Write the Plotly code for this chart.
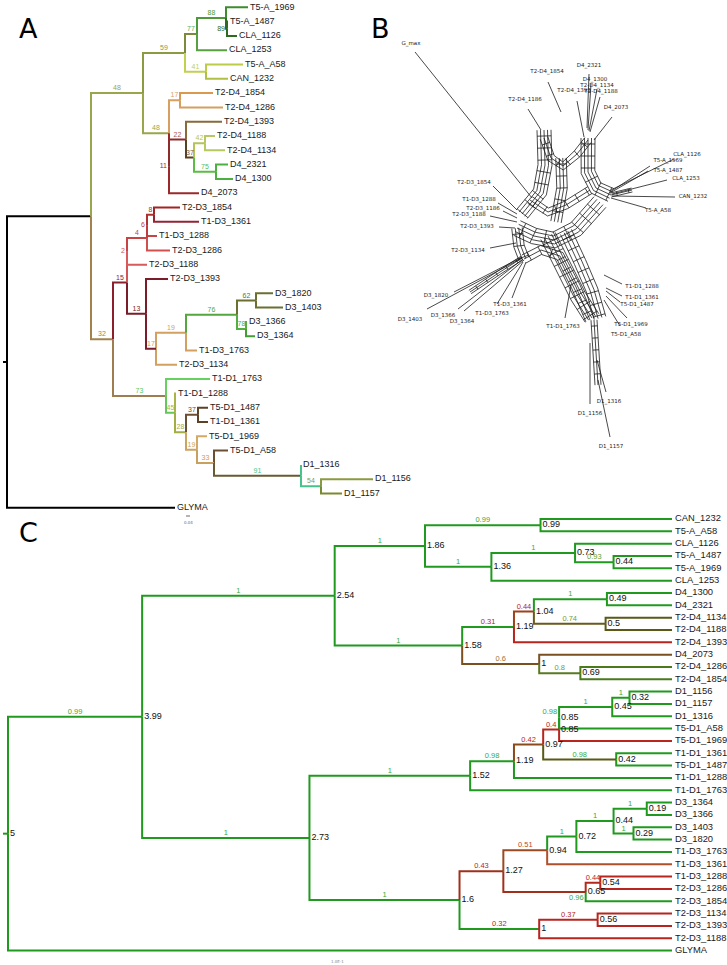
import numpy as np
import plotly.graph_objects as go

# ---------------- Panel A: ML tree with bootstrap support ----------------
a_node = ["R", "IN", "A48", "A59", "A77", "A88", "T5-A_1969", "A89", "T5-A_1487", "CLA_1126",
          "CLA_1253", "A41", "T5-A_A58", "CAN_1232", "A48b", "A17", "T2-D4_1854", "T2-D4_1286",
          "A11", "A22", "T2-D4_1393", "A37", "A42", "T2-D4_1188", "T2-D4_1134", "A75", "D4_2321",
          "D4_1300", "D4_2073",
          "A32", "A15", "A2", "A4", "A6", "A8", "T2-D3_1854", "T1-D3_1361", "T1-D3_1288",
          "T2-D3_1286", "T2-D3_1188", "A13", "T2-D3_1393", "A17b", "A19", "A76", "A62", "D3_1820",
          "D3_1403", "A78", "D3_1366", "D3_1364", "T1-D3_1763", "T2-D3_1134",
          "A73", "T1-D1_1763", "A45", "T1-D1_1288", "A28", "A37b", "T5-D1_1487", "T1-D1_1361",
          "A19b", "T5-D1_1969", "A33", "T5-D1_A58", "A91", "D1_1316", "A54", "D1_1156", "D1_1157",
          "GLYMA"]
a_parent = [None, "R", "IN", "A48", "A59", "A77", "A88", "A88", "A89", "A89",
            "A77", "A59", "A41", "A41", "A48", "A48b", "A17", "A17",
            "A48b", "A11", "A22", "A22", "A37", "A42", "A42", "A37", "A75",
            "A75", "A11",
            "IN", "A32", "A15", "A2", "A4", "A6", "A8", "A8", "A6",
            "A4", "A2", "A15", "A13", "A13", "A17b", "A19", "A76", "A62",
            "A62", "A76", "A78", "A78", "A19", "A17b",
            "A32", "A73", "A73", "A45", "A45", "A28", "A37b", "A37b",
            "A28", "A19b", "A19b", "A33", "A33", "A91", "A91", "A54", "A54",
            "R"]
a_length = [0, 0.672, 0.416, 0.336, 0.096, 0.232, 0.176, 0.008, 0.008, 0.080,
            0.240, 0.168, 0.296, 0.176, 0.208, 0.088, 0.264, 0.344,
            0.0, 0.136, 0.288, 0.064, 0.088, 0.080, 0.160, 0.176, 0.096,
            0.136, 0.240,
            0.176, 0.112, 0.0, 0.160, 0.0, 0.056, 0.208, 0.360, 0.080,
            0.184, 0.160, 0.152, 0.176, 0.080, 0.240, 0.408, 0.152, 0.136,
            0.216, 0.072, 0.008, 0.072, 0.088, 0.168,
            0.424, 0.352, 0.072, 0.008, 0.088, 0.096, 0.080, 0.080,
            0.088, 0.080, 0.136, 0.112, 0.696, 0.0, 0.160, 0.416, 0.168,
            1.344]
a_support = [None, None, 48, 59, 77, 88, None, 89, None, None,
             None, 41, None, None, 48, 17, None, None,
             11, 22, None, 37, 42, None, None, 75, None,
             None, None,
             32, 15, 2, 4, 6, 8, None, None, None,
             None, None, 13, None, 17, 19, 76, 62, None,
             None, 78, None, None, None, None,
             73, None, 45, None, 28, 37, None, None,
             19, None, 33, None, 91, None, 54, None, None,
             None]
a_color = ["#000000", "#000000", "#9aa64a", "#8c9a40", "#7d8a3c", "#4e9a3a", "#3e8c2e", "#2e6b22", "#2e6b22", "#2e6b22",
           "#58a040", "#c2d050", "#bccc48", "#b0c044", "#9aa64a", "#d8a060", "#d89a50", "#d4a060",
           "#9a2a2a", "#8c2c2c", "#8b6a3a", "#5a4022", "#b4c458", "#b8c860", "#b8c860", "#5cbc44", "#4cb040",
           "#4cb040", "#9a2a2a",
           "#a3824e", "#8b1f2c", "#d45555", "#c84444", "#c03c3c", "#b03030", "#a42424", "#922434", "#c84444",
           "#d05050", "#d85a5a", "#7a1c2a", "#7a1c2a", "#7a1c2a", "#d4a060", "#52a83e", "#6b7030", "#6b7030",
           "#6b7030", "#52b042", "#52b042", "#449c34", "#d4a060", "#d4a060",
           "#9e7e50", "#66d060", "#62c85a", "#a8b444", "#a4ac44", "#6a5030", "#5a4224", "#5a4224",
           "#cca462", "#d4aa62", "#c8a060", "#6a5030", "#6a5a32", "#44c48a", "#44c48a", "#8a9a40", "#7a8a32",
           "#000000"]
# support labels whose colour differs from the branch line
a_support_color = {"A73": "#5cc85c", "A91": "#44c48a", "A17b": "#d4a060", "A45": "#a8b444",
                   "A54": "#8a9a40", "A22": "#b05a40", "A37": "#7a5a30", "A77": "#6aa84f"}

# ---------------- Panel B: split network ----------------
b_taxa = ["G_max", "T2-D4_1854", "T2-D4_1186", "D4_2321", "D4_1300", "T2-D4_1134", "T2-D4_1393",
          "T2-D4_1188", "D4_2073", "CLA_1126", "T5-A_1969", "T5-A_1487", "CLA_1253", "CAN_1232",
          "T5-A_A58", "T2-D3_1854", "T1-D3_1288", "T2-D3_1186", "T2-D3_1188", "T2-D3_1393",
          "T2-D3_1134", "D3_1820", "D3_1403", "D3_1366", "D3_1364", "T1-D3_1361", "T1-D3_1763",
          "T1-D1_1763", "T1-D1_1288", "T1-D1_1361", "T5-D1_1487", "T5-D1_1969", "T5-D1_A58",
          "D1_1316", "D1_1156", "D1_1157"]
b_lab_x = [411, 547, 525, 589, 595, 597, 574, 601, 616, 687, 668, 668, 686, 693, 658, 474, 479, 483,
           469, 477, 468, 436, 410, 443, 462, 510, 492, 563, 642, 642, 637, 631, 626, 609, 590, 611]
b_lab_y = [44, 72, 100, 66, 80, 86, 91, 92, 108, 155, 161, 171, 179, 197, 211, 183, 200, 209,
           215, 227, 251, 296, 320, 316, 322, 305, 314, 327, 287, 298, 305, 325, 335, 402, 414, 447]
b_tip_x = [415, 548, 528, 589, 591, 597, 577, 600, 612, 674, 650, 648, 667, 675, 646, 493, 498, 503,
           490, 499, 490, 454, 427, 458, 464, 512, 497, 565, 622, 622, 620, 627, 620, 606, 590, 610]
b_tip_y = [52, 82, 109, 74, 84, 89, 101, 97, 117, 159, 166, 171, 180, 197, 208, 186, 203, 211,
           216, 227, 248, 292, 309, 309, 311, 298, 304, 318, 284, 296, 302, 318, 326, 392, 404, 437]
b_att_x = [532, 561, 541, 587, 588, 589, 584, 590, 594, 611, 610, 610, 612, 612, 611, 517, 517, 517,
           517, 515, 516, 522, 522, 523, 524, 526, 523, 571, 604, 606, 606, 606, 604, 597, 590, 598]
b_att_y = [198, 112, 130, 128, 130, 131, 137, 132, 140, 190, 192, 193, 194, 196, 198, 210, 214, 218,
           222, 228, 243, 257, 258, 259, 260, 262, 262, 285, 275, 288, 291, 296, 300, 360, 343, 380]
# internal splits, drawn as ribbons of parallel edges
b_band_path = [[(544, 130), (545, 165), (540, 192), (522, 214)],
               [(561, 158), (562, 188), (556, 222)],
               [(588, 138), (588, 172), (596, 188), (611, 195)],
               [(544, 138), (551, 158), (563, 166), (577, 154), (588, 140)],
               [(517, 228), (534, 236), (554, 240), (576, 229), (600, 202)],
               [(548, 236), (563, 266), (578, 296), (592, 318)],
               [(566, 232), (580, 262), (592, 290), (600, 318)],
               [(517, 228), (519, 246), (524, 259)],
               [(524, 259), (541, 250), (560, 256), (576, 287), (590, 320)],
               [(594, 320), (596, 352), (598, 385)],
               [(522, 258), (500, 272), (470, 292)],
               [(611, 195), (632, 190)],
               [(530, 200), (548, 212), (566, 205), (590, 190)]]
b_band_lines = [5, 4, 5, 3, 5, 5, 4, 4, 3, 3, 3, 3, 3]
b_band_gap = [3.5, 3.5, 3.5, 4.0, 4.0, 4.0, 4.0, 3.5, 4.5, 3.0, 2.0, 2.0, 4.0]

# ---------------- Panel C: dated tree (node ages, posterior) ----------------
GR, LG, RD = "#1f9a1f", "#38aa38", "#b8241e"
c_node = ["C5", "C399", "C254", "C186", "C099", "CAN_1232", "T5-A_A58", "C136", "C073", "CLA_1126",
          "C044a", "T5-A_1487", "T5-A_1969", "CLA_1253", "C158", "C119a", "C104", "C049", "D4_1300", "D4_2321",
          "C050", "T2-D4_1134", "T2-D4_1188", "T2-D4_1393", "C100a", "D4_2073", "C069", "T2-D4_1286", "T2-D4_1854", "C273",
          "C152", "C119b", "C097", "C085b", "C085a", "C045", "C032", "D1_1156", "D1_1157", "D1_1316",
          "T5-D1_A58", "T5-D1_1969", "C042", "T1-D1_1361", "T5-D1_1487", "T1-D1_1288", "T1-D1_1763", "C160", "C127", "C094",
          "C072", "C044b", "C019", "D3_1364", "D3_1366", "C029", "D3_1403", "D3_1820", "T1-D3_1763", "T1-D3_1361",
          "C065", "C054", "T1-D3_1288", "T2-D3_1286", "T2-D3_1854", "C100b", "C056", "T2-D3_1134", "T2-D3_1393", "T2-D3_1188",
          "GLYMA"]
c_parent = [None, "C5", "C399", "C254", "C186", "C099", "C099", "C186", "C136", "C073",
            "C073", "C044a", "C044a", "C136", "C254", "C158", "C119a", "C104", "C049", "C049",
            "C104", "C050", "C050", "C119a", "C158", "C100a", "C100a", "C069", "C069", "C399",
            "C273", "C152", "C119b", "C097", "C085b", "C085a", "C045", "C032", "C032", "C045",
            "C085a", "C085b", "C097", "C042", "C042", "C119b", "C152", "C273", "C160", "C127",
            "C094", "C072", "C044b", "C019", "C019", "C044b", "C029", "C029", "C072", "C094",
            "C127", "C065", "C054", "C054", "C065", "C160", "C100b", "C056", "C056", "C100b",
            "C5"]
c_age = [5, 3.99, 2.54, 1.86, 0.99, 0, 0, 1.36, 0.73, 0,
         0.44, 0, 0, 0, 1.58, 1.19, 1.04, 0.49, 0, 0,
         0.5, 0, 0, 0, 1, 0, 0.69, 0, 0, 2.73,
         1.52, 1.19, 0.97, 0.85, 0.85, 0.45, 0.32, 0, 0, 0,
         0, 0, 0.42, 0, 0, 0, 0, 1.6, 1.27, 0.94,
         0.72, 0.44, 0.19, 0, 0, 0.29, 0, 0, 0, 0,
         0.65, 0.54, 0, 0, 0, 1, 0.56, 0, 0, 0,
         0]
c_post = [None, 0.99, 1, 1, 0.99, None, None, 1, 1, None,
          0.93, None, None, None, 1, 0.31, 0.44, 1, None, None,
          0.74, None, None, None, 0.6, None, 0.8, None, None, 1,
          1, 0.98, 0.42, 0.4, 0.98, 1, 1, None, None, None,
          None, None, 0.98, None, None, None, None, 1, 0.43, 0.51,
          1, 1, 1, None, None, 1, None, None, None, None,
          0.96, 0.44, None, None, None, 0.32, 0.37, None, None, None,
          None]
c_line = [GR, GR, GR, GR, GR, GR, GR, GR, GR, GR,
          GR, GR, GR, GR, GR, GR, "#a0401c", GR, GR, GR,
          "#6a5a1c", "#5a5a18", "#5a5a18", RD, "#7a5020", "#7a5020", "#5a7a20", "#4a7a1c", "#4a7a1c", GR,
          GR, GR, "#8a4a1c", RD, GR, GR, GR, GR, GR, GR,
          GR, RD, "#5a5a18", GR, GR, GR, GR, GR, "#a0301c", "#9a4a20",
          GR, GR, GR, GR, GR, GR, GR, GR, GR, "#b0502a",
          "#a0301c", RD, RD, RD, GR, GR, RD, RD, RD, RD,
          GR]
c_lab = [None, LG, LG, LG, LG, None, None, LG, LG, None,
         "#6aa020", None, None, None, LG, RD, RD, LG, None, None,
         "#7a9a30", None, None, None, "#a07040", None, "#6aa030", None, None, LG,
         LG, LG, RD, RD, LG, LG, LG, None, None, None,
         None, None, LG, None, None, None, None, LG, RD, "#c04a2a",
         LG, LG, LG, None, None, LG, None, None, None, None,
         LG, RD, None, None, None, RD, RD, None, None, None,
         None]
c_lab_pos = {"C085a": "top left", "C065": "bottom left"}

# ---------------- geometry (pixels of the 727 x 965 page) ----------------
W, H = 727, 965
SANS = "Liberation Sans, Arial, sans-serif"
A_ROOT_PX, A_PX_PER_UNIT, A_TIP0, A_STEP = 7, 125.0, 7.3, 14.3
C_TIP_PX, C_PX_PER_AGE, C_TIP0, C_STEP = 672, 132.8, 519, 12.33
TOP_H = 510


def tree_layout(nodes, parents):
    kids = {n: [] for n in nodes}
    root = None
    for n, p in zip(nodes, parents):
        if p is None:
            root = n
        else:
            kids[p].append(n)
    ypos, order = {}, []

    def walk(n):
        if not kids[n]:
            ypos[n] = len(order)
            order.append(n)
        else:
            for c in kids[n]:
                walk(c)
            ypos[n] = sum(ypos[c] for c in kids[n]) / len(kids[n])
    walk(root)
    return root, kids, ypos, order


def line_traces(segs, width, xa, ya):
    out = []
    for col, (xs, ys) in segs.items():
        out.append(go.Scatter(x=xs, y=ys, mode="lines", line=dict(color=col, width=width),
                              hoverinfo="skip", xaxis=xa, yaxis=ya))
    return out


fig = go.Figure()

# ----- panel A -----
a_root, a_kids, a_y, a_tips = tree_layout(a_node, a_parent)
a_x = {}
for n, p, L in zip(a_node, a_parent, a_length):
    a_x[n] = 0.0 if p is None else a_x[p] + L
ux = 1 / A_PX_PER_UNIT   # one pixel in branch-length units
uy = 1 / A_STEP          # one pixel in tip-index units

segs = {"#000000": ([-4 * ux, 0.0, None], [a_y[a_root], a_y[a_root], None])}
for n, p, col in zip(a_node, a_parent, a_color):
    if p is None:
        continue
    xs, ys = segs.setdefault(col, ([], []))
    xs += [a_x[p], a_x[p], a_x[n], None]
    ys += [a_y[p], a_y[n], a_y[n], None]
for t in line_traces(segs, 2, "x", "y"):
    fig.add_trace(t)

fig.add_trace(go.Scatter(
    x=[a_x[n] + 2 * ux for n in a_tips], y=[a_y[n] for n in a_tips], text=a_tips,
    mode="text", textposition="middle right", cliponaxis=False, hoverinfo="skip",
    textfont=dict(family=SANS, size=9, color="#1a1a1a"), xaxis="x", yaxis="y"))

sx, sy, st, sp, sc = [], [], [], [], []
for n, p, L, s, col in zip(a_node, a_parent, a_length, a_support, a_color):
    if s is None:
        continue
    if L < 0.02:
        sx.append(a_x[n] - 2 * ux); sy.append(a_y[n]); sp.append("middle left")
    else:
        sx.append((a_x[p] + a_x[n]) / 2); sy.append(a_y[n] - 1.2 * uy); sp.append("top center")
    st.append(str(s))
    sc.append(a_support_color.get(n, col))
fig.add_trace(go.Scatter(x=sx, y=sy, text=st, mode="text", textposition=sp, cliponaxis=False,
                         hoverinfo="skip", textfont=dict(family=SANS, size=7, color=sc),
                         xaxis="x", yaxis="y"))

# ----- panel B -----


def band(pts, n, gap=4.0, step=12.0):
    pts = np.asarray(pts, float)
    seg = np.diff(pts, axis=0)
    seg_len = np.hypot(seg[:, 0], seg[:, 1])
    seg_dir = seg / seg_len[:, None]
    seg_nrm = np.column_stack([-seg_dir[:, 1], seg_dir[:, 0]])
    vtx_nrm = np.vstack([seg_nrm[:1], (seg_nrm[:-1] + seg_nrm[1:]) / 2, seg_nrm[-1:]])
    vtx_nrm /= np.linalg.norm(vtx_nrm, axis=1)[:, None]
    offs = (np.arange(n) - (n - 1) / 2) * gap
    xs, ys = [], []
    for d in offs:
        q = pts + vtx_nrm * d
        xs += list(q[:, 0]) + [None]
        ys += list(q[:, 1]) + [None]
    cum = np.concatenate([[0], np.cumsum(seg_len)])
    for s in np.arange(step / 2, cum[-1], step):
        i = max(min(int(np.searchsorted(cum, s)) - 1, len(seg_len) - 1), 0)
        c = pts[i] + seg_dir[i] * (s - cum[i])
        a, b = c + seg_nrm[i] * offs[0], c + seg_nrm[i] * offs[-1]
        xs += [a[0], b[0], None]
        ys += [a[1], b[1], None]
    return xs, ys


bx, by = [], []
for path, n, gap in zip(b_band_path, b_band_lines, b_band_gap):
    xs, ys = band(path, n, gap)
    bx += xs
    by += ys
for x0, y0, x1, y1 in zip(b_att_x, b_att_y, b_tip_x, b_tip_y):
    bx += [x0, x1, None]
    by += [y0, y1, None]
fig.add_trace(go.Scatter(x=bx, y=by, mode="lines", line=dict(color="#1a1a1a", width=0.8),
                         hoverinfo="skip", xaxis="x2", yaxis="y2"))
fig.add_trace(go.Scatter(x=b_lab_x, y=b_lab_y, text=b_taxa, mode="text", textposition="middle center",
                         cliponaxis=False, hoverinfo="skip",
                         textfont=dict(family="DejaVu Sans", size=5.5, color="#222222"),
                         xaxis="x2", yaxis="y2"))

# ----- panel C -----
c_root, c_kids, c_y, c_tips = tree_layout(c_node, c_parent)
c_x = dict(zip(c_node, c_age))
vx = 1 / C_PX_PER_AGE   # one pixel in age units (axis runs right-to-left)
vy = 1 / C_STEP
segs = {GR: ([c_x[c_root] + 5 * vx, c_x[c_root], None], [c_y[c_root], c_y[c_root], None])}
for n, p, col in zip(c_node, c_parent, c_line):
    if p is None:
        continue
    xs, ys = segs.setdefault(col, ([], []))
    xs += [c_x[p], c_x[p], c_x[n], None]
    ys += [c_y[p], c_y[n], c_y[n], None]
for t in line_traces(segs, 2, "x3", "y3"):
    fig.add_trace(t)

fig.add_trace(go.Scatter(
    x=[c_x[n] - 3 * vx for n in c_tips], y=[c_y[n] for n in c_tips], text=c_tips,
    mode="text", textposition="middle right", cliponaxis=False, hoverinfo="skip",
    textfont=dict(family=SANS, size=9.4, color="#1a1a1a"), xaxis="x3", yaxis="y3"))

inner = [n for n in c_node if c_kids[n]]
fig.add_trace(go.Scatter(
    x=[c_x[n] - 2 * vx for n in inner], y=[c_y[n] for n in inner],
    text=[f"{c_x[n]:g}" for n in inner], mode="text", textposition="middle right",
    cliponaxis=False, hoverinfo="skip", textfont=dict(family=SANS, size=9, color="#111111"),
    xaxis="x3", yaxis="y3"))

lx, ly, lt, lp, lc = [], [], [], [], []
for n, p, post, col in zip(c_node, c_parent, c_post, c_lab):
    if post is None:
        continue
    if n in c_lab_pos:
        lx.append(c_x[n] + 2 * vx); lp.append(c_lab_pos[n])
        ly.append(c_y[n] + (-2 if "top" in c_lab_pos[n] else 2) * vy)
    else:
        lx.append((c_x[p] + c_x[n]) / 2); ly.append(c_y[n] - 1.0 * vy); lp.append("top center")
    lt.append(f"{post:g}")
    lc.append(col)
fig.add_trace(go.Scatter(x=lx, y=ly, text=lt, mode="text", textposition=lp, cliponaxis=False,
                         hoverinfo="skip", textfont=dict(family=SANS, size=7.5, color=lc),
                         xaxis="x3", yaxis="y3"))

# ----- axes -----
ax_off = dict(visible=False, showgrid=False, zeroline=False, fixedrange=True)
fig.update_layout(
    width=W, height=H, autosize=False, margin=dict(l=0, r=0, t=0, b=0, pad=0),
    paper_bgcolor="white", plot_bgcolor="rgba(0,0,0,0)", showlegend=False,
    xaxis=dict(domain=[0, 380 / W], range=[-A_ROOT_PX * ux, (380 - A_ROOT_PX) * ux],
               anchor="y", **ax_off),
    yaxis=dict(domain=[1 - TOP_H / H, 1], range=[(TOP_H - A_TIP0) * uy, -A_TIP0 * uy],
               anchor="x", **ax_off),
    xaxis2=dict(domain=[380 / W, 1], range=[380, W], anchor="y2", **ax_off),
    yaxis2=dict(domain=[1 - TOP_H / H, 1], range=[TOP_H, 0], anchor="x2", **ax_off),
    xaxis3=dict(domain=[0, 1], range=[C_TIP_PX * vx, (C_TIP_PX - W) * vx], anchor="y3", **ax_off),
    yaxis3=dict(domain=[0, 1 - TOP_H / H], range=[(H - C_TIP0) * vy, (TOP_H - C_TIP0) * vy],
                anchor="x3", **ax_off),
)

# panel letters and scale marks
for letter, px, py in [("A", 29, 28), ("B", 380, 28), ("C", 29, 532)]:
    fig.add_annotation(text=letter, x=px / W, y=1 - py / H, xref="paper", yref="paper",
                       xanchor="center", yanchor="middle", showarrow=False,
                       font=dict(family="DejaVu Sans", size=27, color="black"))
fig.add_annotation(text="0.04", x=188 / W, y=1 - 522 / H, xref="paper", yref="paper",
                   xanchor="center", yanchor="middle", showarrow=False,
                   font=dict(family="DejaVu Sans", size=4, color="#666666"))
fig.add_shape(type="line", xref="paper", yref="paper", x0=186 / W, x1=190 / W,
              y0=1 - 516 / H, y1=1 - 516 / H, line=dict(color="#444444", width=0.8))
fig.add_annotation(text="1.0E-1", x=337 / W, y=1 - 961 / H, xref="paper", yref="paper",
                   xanchor="center", yanchor="middle", showarrow=False,
                   font=dict(family="DejaVu Sans", size=4, color="#888888"))

# the page body keeps an 8 px default margin; drop it so the figure sits at the corner
fig.write_html("out.html", config={"displayModeBar": False},
               post_script="document.body.style.margin='0px';")
